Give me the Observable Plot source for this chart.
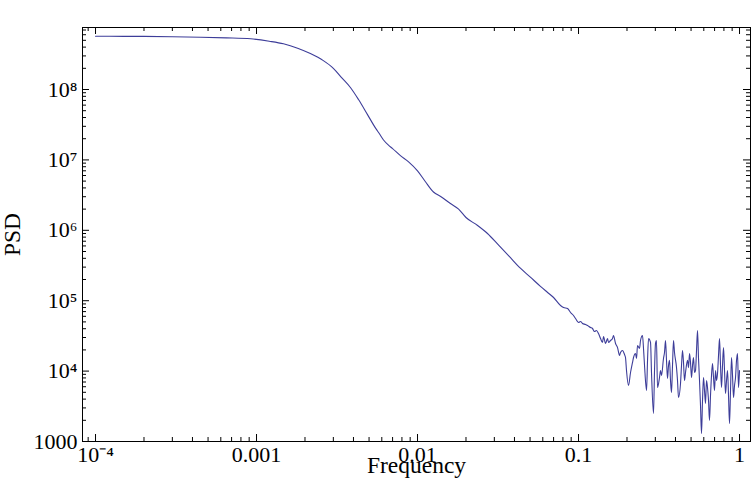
<!DOCTYPE html>
<html><head><meta charset="utf-8">
<script src="https://cdn.jsdelivr.net/npm/d3@7"></script>
<script src="https://cdn.jsdelivr.net/npm/@observablehq/plot@0.6"></script>
<style>body{margin:0;background:#fff}</style>
</head><body><div id="chart"></div>
<script>
// Frequency values (smooth low-frequency part, then the noisy tail)
const frequency = [
  1.0e-4, 1.5e-4, 2.0e-4, 3.0e-4, 4.5e-4, 6.5e-4, 9.2e-4, 1.2e-3, 1.47e-3, 1.8e-3,
  2.16e-3, 2.6e-3, 3.0e-3, 3.4e-3, 3.84e-3, 4.3e-3, 4.89e-3, 5.5e-3, 5.8e-3, 6.15e-3,
  6.6e-3, 7.0e-3, 7.83e-3, 8.8e-3, 0.01, 0.0112, 0.01256, 0.014, 0.016, 0.018,
  0.02, 0.0235, 0.0272, 0.032, 0.037, 0.0437, 0.05, 0.058, 0.064, 0.070,
  0.0773, 0.0807, 0.0855, 0.0892, 0.0931, 0.0958, 0.0999, 0.1029, 0.1059, 0.1105,
  0.1137, 0.1187, 0.1221, 0.1257, 0.1293, 0.1330, 0.1370, 0.1409, 0.1430, 0.1471,
  0.1514, 0.1536, 0.1580, 0.1626, 0.1649, 0.1698, 0.1747, 0.1797, 0.1823, 0.1876,
  0.1930, 0.1958, 0.1986, 0.2043, 0.2104, 0.2165, 0.2196, 0.2259, 0.2292, 0.2325,
  0.2393, 0.2427, 0.2497, 0.2533, 0.2570, 0.2645, 0.2683, 0.2722, 0.2800, 0.2841,
  0.2923, 0.2965, 0.3007, 0.3050, 0.3094, 0.3184, 0.3230, 0.3276, 0.3371, 0.3420,
  0.3470, 0.3520, 0.3570, 0.3622, 0.3674, 0.3727, 0.3781, 0.3835, 0.3890, 0.3946,
  0.4061, 0.4119, 0.4179, 0.4300, 0.4362, 0.4425, 0.4488, 0.4553, 0.4619, 0.4753,
  0.4821, 0.4891, 0.4961, 0.5033, 0.5105, 0.5179, 0.5253, 0.5329, 0.5406, 0.5484,
  0.5563, 0.5643, 0.5724, 0.5806, 0.5890, 0.5975, 0.6061, 0.6148, 0.6237, 0.6326,
  0.6418, 0.6510, 0.6604, 0.6699, 0.6796, 0.6894, 0.6993, 0.7094, 0.7196, 0.7300,
  0.7405, 0.7512, 0.7620, 0.7730, 0.7841, 0.7954, 0.8069, 0.8185, 0.8303, 0.8423,
  0.8544, 0.8667, 0.8792, 0.8919, 0.9047, 0.9178, 0.9310, 0.9444, 0.9580, 0.9718,
  0.9858, 1.0
];
const psd = [
  5.70e8, 5.69e8, 5.68e8, 5.62e8, 5.53e8, 5.42e8, 5.25e8, 4.85e8, 4.46e8, 3.86e8,
  3.24e8, 2.57e8, 2.0e8, 1.45e8, 1.06e8, 7.2e7, 4.4e7, 2.8e7, 2.35e7, 1.92e7,
  1.62e7, 1.45e7, 1.15e7, 9.4e6, 7.0e6, 4.9e6, 3.5e6, 3.0e6, 2.4e6, 2.0e6,
  1.52e6, 1.18e6, 9.0e5, 6.1e5, 4.3e5, 2.87e5, 2.18e5, 1.6e5, 1.32e5, 1.11e5,
  8.55e4, 8.0e4, 7.75e4, 6.8e4, 6.16e4, 5.58e4, 4.90e4, 5.07e4, 4.75e4, 4.59e4,
  4.44e4, 4.16e4, 4.03e4, 3.65e4, 3.77e4, 3.42e4, 2.90e4, 2.55e4, 3.10e4, 2.47e4,
  2.90e4, 2.55e4, 2.72e4, 2.90e4, 3.20e4, 2.47e4, 2.16e4, 1.67e4, 1.84e4, 1.96e4,
  1.72e4, 1.56e4, 1.02e4, 6.24e3, 9.55e3, 1.33e4, 1.56e4, 1.78e4, 1.51e4, 2.31e4,
  2.10e4, 2.72e4, 3.20e4, 2.10e4, 1.20e4, 5.30e3, 1.42e4, 2.90e4, 2.55e4, 9.25e3,
  2.50e3, 1.02e4, 2.47e4, 2.72e4, 5.85e3, 8.11e3, 1.02e4, 8.66e3, 1.51e4, 1.84e4,
  2.72e4, 1.42e4, 7.85e3, 1.20e4, 1.42e4, 7.35e3, 4.97e3, 1.20e4, 2.72e4, 1.84e4,
  1.12e4, 7.35e3, 4.22e3, 6.66e3, 1.20e4, 1.96e4, 1.33e4, 7.35e3, 9.55e3, 1.42e4,
  1.12e4, 1.78e4, 1.33e4, 8.11e3, 1.20e4, 1.56e4, 9.55e3, 1.02e4, 1.96e4, 3.77e4,
  1.51e4, 7.35e3, 3.24e3, 1.30e3, 3.82e3, 8.11e3, 5.30e3, 3.47e3, 7.35e3, 5.85e3,
  3.82e3, 1.99e3, 4.50e3, 8.66e3, 1.28e4, 8.11e3, 5.30e3, 1.02e4, 7.35e3, 9.25e3,
  1.67e4, 2.90e4, 1.20e4, 5.85e3, 1.20e4, 2.16e4, 1.02e4, 4.81e3, 7.35e3, 1.02e4,
  4.50e3, 1.80e3, 5.30e3, 1.56e4, 8.66e3, 4.22e3, 6.24e3, 8.11e3, 1.42e4, 1.78e4,
  5.85e3, 1.02e4
];

const xTicks = [1e-4, 1e-3, 1e-2, 1e-1, 1];
const xTickLabels = ["10⁻⁴", "0.001", "0.01", "0.1", "1"];
const yTicks = [1e3, 1e4, 1e5, 1e6, 1e7, 1e8];
const yTickLabels = ["1000", "10⁴", "10⁵", "10⁶", "10⁷", "10⁸"];
const xMinorTicks = [
  9e-5,
  2e-4, 3e-4, 4e-4, 5e-4, 6e-4, 7e-4, 8e-4, 9e-4,
  2e-3, 3e-3, 4e-3, 5e-3, 6e-3, 7e-3, 8e-3, 9e-3,
  0.02, 0.03, 0.04, 0.05, 0.06, 0.07, 0.08, 0.09,
  0.2, 0.3, 0.4, 0.5, 0.6, 0.7, 0.8, 0.9
];
const yMinorTicks = [
  2e3, 3e3, 4e3, 5e3, 6e3, 7e3, 8e3, 9e3,
  2e4, 3e4, 4e4, 5e4, 6e4, 7e4, 8e4, 9e4,
  2e5, 3e5, 4e5, 5e5, 6e5, 7e5, 8e5, 9e5,
  2e6, 3e6, 4e6, 5e6, 6e6, 7e6, 8e6, 9e6,
  2e7, 3e7, 4e7, 5e7, 6e7, 7e7, 8e7, 9e7,
  2e8, 3e8, 4e8, 5e8, 6e8, 7e8
];

const data = frequency.map((f, i) => ({f, p: psd[i]}));

const W = 755, H = 503;
const mt = 27, mb = 62, ml = 82, mr = 5;
const innerW = W - ml - mr, innerH = H - mt - mb;
const major = 7, minor = 4;
const ink = "black";

const chart = Plot.plot({
  width: W, height: H,
  marginTop: mt, marginBottom: mb, marginLeft: ml, marginRight: mr,
  style: {fontFamily: "'Liberation Serif', 'Times New Roman', serif", fontSize: "22px", background: "white", color: "black", overflow: "visible"},
  x: {type: "log", domain: [8.3e-5, 1.17]},
  y: {type: "log", domain: [1000, 7.6e8]},
  marks: [
    Plot.line(data, {x: "f", y: "p", stroke: "#3d3d99", strokeWidth: 1.1, curve: "monotone-x"}),
    // inward ticks on all four sides
    Plot.tickX(xTicks, {x: d => d, insetTop: innerH - major, stroke: ink}),
    Plot.tickX(xTicks, {x: d => d, insetBottom: innerH - major, stroke: ink}),
    Plot.tickX(xMinorTicks, {x: d => d, insetTop: innerH - minor, stroke: ink}),
    Plot.tickX(xMinorTicks, {x: d => d, insetBottom: innerH - minor, stroke: ink}),
    Plot.tickY(yTicks, {y: d => d, insetRight: innerW - major, stroke: ink}),
    Plot.tickY(yTicks, {y: d => d, insetLeft: innerW - major, stroke: ink}),
    Plot.tickY(yMinorTicks, {y: d => d, insetRight: innerW - minor, stroke: ink}),
    Plot.tickY(yMinorTicks, {y: d => d, insetLeft: innerW - minor, stroke: ink}),
    Plot.axisX(xTicks, {tickSize: 0, tickPadding: 5, fontSize: 22,
      tickFormat: d => xTickLabels[xTicks.indexOf(d)], label: null}),
    Plot.axisY(yTicks, {tickSize: 0, tickPadding: 5, fontSize: 22,
      tickFormat: d => yTickLabels[yTicks.indexOf(d)], label: null}),
    Plot.axisX([], {tickSize: 0, label: "Frequency", labelAnchor: "center", labelOffset: 31, labelArrow: "none", fontSize: 23.5}),
    Plot.axisY([], {tickSize: 0, label: "PSD", labelAnchor: "center", labelOffset: 79, labelArrow: "none", fontSize: 23.5}),
    Plot.frame({stroke: ink, strokeWidth: 1})
  ]
});
document.getElementById("chart").appendChild(chart);
</script>
</body></html>
